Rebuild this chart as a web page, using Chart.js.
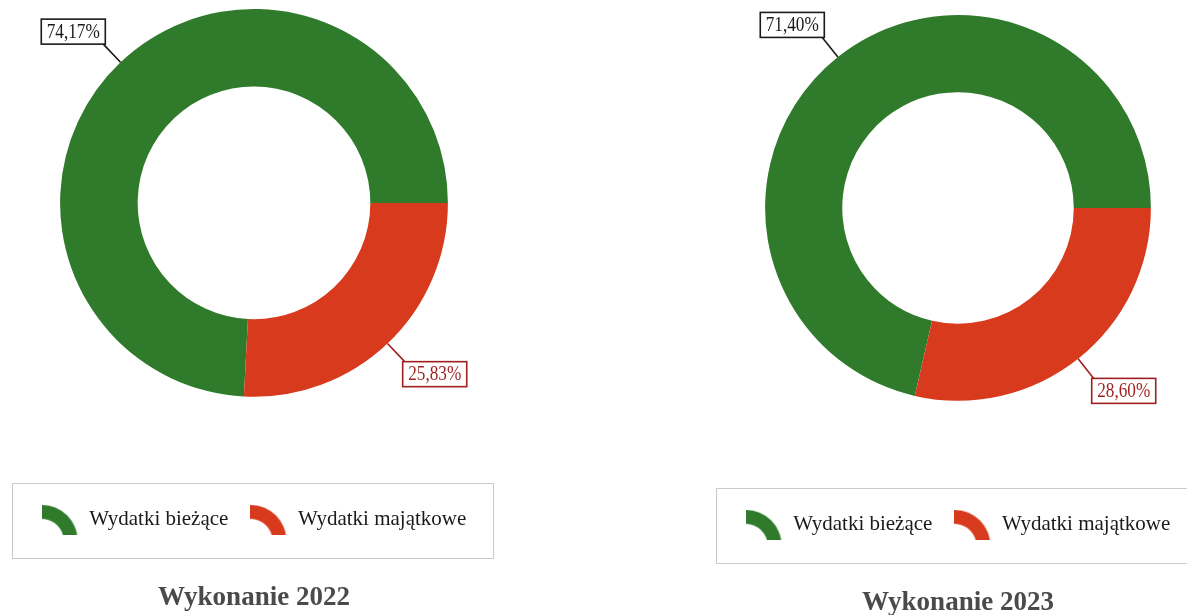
<!DOCTYPE html>
<html lang="pl">
<head>
<meta charset="utf-8">
<script src="https://cdn.jsdelivr.net/npm/chart.js@4.4.0/dist/chart.umd.min.js"></script>
<style>
  html, body { margin: 0; padding: 0; background: #fff; overflow: hidden; }
  body { width: 1187px; height: 615px; position: relative; }
  .box { position: absolute; top: 0; }
</style>
</head>
<body>
<div class="box" style="left:0; width:508px; height:615px"><canvas id="chart2022"></canvas></div>
<div class="box" style="left:712px; width:492px; height:620px"><canvas id="chart2023"></canvas></div>
<script>
const categories = ['Wydatki bieżące', 'Wydatki majątkowe'];
const values2022 = [74.17, 25.83];
const values2023 = [71.40, 28.60];
const titles = ['Wykonanie 2022', 'Wykonanie 2023'];

const sliceColors = ['#2f7b2b', '#d83a1d'];
const labelColors = ['#1a1a1a', '#9e1f1f'];

// little arc used as legend marker
function makeIcon(color) {
  const c = document.createElement('canvas');
  c.width = 37;
  c.height = 30;
  const g = c.getContext('2d');
  g.fillStyle = color;
  g.beginPath();
  g.arc(0, 36, 36, -Math.PI / 2, 0);
  g.arc(0, 36, 22, 0, -Math.PI / 2, true);
  g.closePath();
  g.fill();
  return c;
}
const icons = sliceColors.map(makeIcon);

// boxed percentage labels with a leader line
const sliceLabels = {
  id: 'sliceLabels',
  afterDatasetsDraw(chart) {
    const ctx = chart.ctx;
    const meta = chart.getDatasetMeta(0);
    const data = chart.data.datasets[0].data;
    meta.data.forEach((arc, i) => {
      const p = arc.getProps(['x', 'y', 'startAngle', 'endAngle', 'outerRadius'], true);
      const mid = (p.startAngle + p.endAngle) / 2;
      const cos = Math.cos(mid), sin = Math.sin(mid);
      const ex = p.x + p.outerRadius * cos, ey = p.y + p.outerRadius * sin;
      const lx = ex + 25 * cos, ly = ey + 25 * sin;
      const text = data[i].toFixed(2).replace('.', ',') + '%';
      ctx.save();
      ctx.font = '20px "Liberation Serif"';
      const w = ctx.measureText(text).width * 0.86 + 11, h = 25;
      const bx = cos < 0 ? lx + 2 - w : lx - 2;
      const by = sin < 0 ? ly - h : ly;
      ctx.strokeStyle = labelColors[i];
      ctx.lineWidth = 1.6;
      ctx.beginPath();
      ctx.moveTo(ex, ey);
      ctx.lineTo(lx, ly);
      ctx.stroke();
      ctx.fillStyle = '#fff';
      ctx.fillRect(bx, by, w, h);
      ctx.strokeRect(bx, by, w, h);
      ctx.fillStyle = labelColors[i];
      ctx.textBaseline = 'middle';
      ctx.textAlign = 'center';
      ctx.translate(bx + w / 2, by + h / 2 + 1);
      ctx.scale(0.86, 1);
      ctx.fillText(text, 0, 0);
      ctx.restore();
    });
  }
};

// thin grey frame round the legend
const legendFrame = {
  id: 'legendFrame',
  afterDraw(chart) {
    const hb = chart.legend.legendHitBoxes;
    if (!hb || !hb.length) return;
    const last = hb[hb.length - 1];
    const cy = hb[0].top + hb[0].height / 2;
    const x0 = hb[0].left - 30, x1 = last.left + last.width + 26;
    const ctx = chart.ctx;
    ctx.save();
    ctx.strokeStyle = '#c9c9c9';
    ctx.lineWidth = 1;
    ctx.strokeRect(Math.round(x0) + 0.5, Math.round(cy - 37) + 0.5, Math.round(x1 - x0), 75);
    ctx.restore();
  }
};

function makeChart(id, values, title, lay) {
  const total = values.reduce((a, b) => a + b, 0);
  return new Chart(document.getElementById(id), {
    type: 'doughnut',
    data: {
      labels: categories,
      datasets: [{
        data: values,
        backgroundColor: sliceColors,
        borderWidth: 0,
        hoverOffset: 0
      }]
    },
    options: {
      responsive: true,
      maintainAspectRatio: false,
      animation: false,
      cutout: '60%',
      // second slice starts at 3 o'clock
      rotation: 90 - values[0] / total * 360,
      layout: { padding: { top: lay.top, bottom: 0, left: 0, right: 0 } },
      plugins: {
        tooltip: { enabled: false },
        legend: {
          position: 'bottom',
          title: { display: true, text: '', font: { size: 10 }, padding: { top: lay.legendGap, bottom: 0 } },
          labels: {
            usePointStyle: true,
            pointStyleWidth: 37,
            padding: 22,
            color: '#1a1a1a',
            font: { family: 'Liberation Serif', size: 21 },
            generateLabels(chart) {
              const items = Chart.overrides.doughnut.plugins.legend.labels.generateLabels(chart);
              return items.map((it, i) => ({ ...it, pointStyle: icons[i] }));
            }
          }
        },
        title: {
          display: true,
          position: 'bottom',
          text: title,
          color: '#4a4a4a',
          font: { family: 'Liberation Serif', size: 27, weight: 'bold' },
          padding: { top: lay.titleTop, bottom: lay.titleBottom }
        }
      }
    },
    plugins: [sliceLabels, legendFrame]
  });
}

makeChart('chart2022', values2022, titles[0], { top: 9, legendGap: 78.5, titleTop: 41.3, titleBottom: 1 });
makeChart('chart2023', values2023, titles[1], { top: 15, legendGap: 79.5, titleTop: 41.3, titleBottom: 1 });
</script>
</body>
</html>
